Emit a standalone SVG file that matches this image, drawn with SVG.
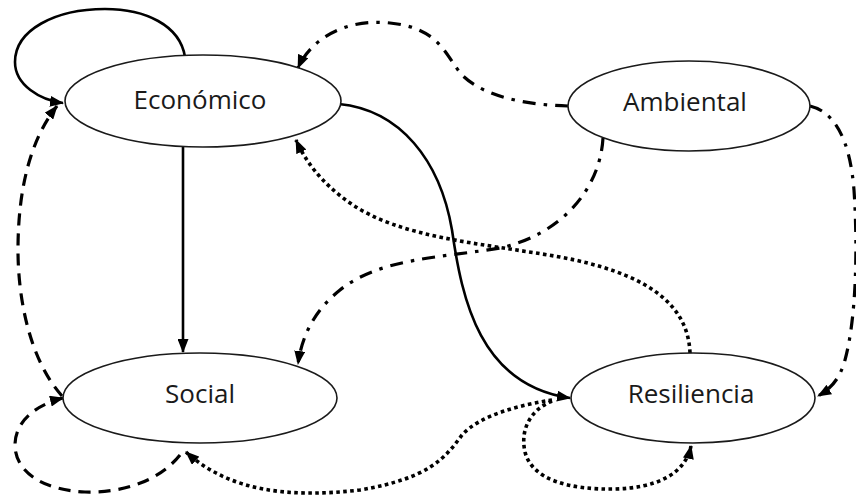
<svg xmlns="http://www.w3.org/2000/svg" width="856" height="497" viewBox="0 0 856 497">
  <style>
    .node { fill: #ffffff; stroke: #1a1a1a; stroke-width: 1.6; }
    .label { font-family: "Open Sans", "Liberation Sans", sans-serif; font-size: 26px; fill: #1a1a1a; text-anchor: middle; }
    .edge { fill: none; stroke: #000000; }
    .solid { stroke-width: 2.6; }
    .dashed { stroke-width: 3.2; stroke-dasharray: 12 8; }
    .dashdot { stroke-width: 3.2; stroke-dasharray: 13 8 3.5 8; }
    .dotted { stroke-width: 3.6; stroke-dasharray: 3.6 3.4; }
  </style>
  <defs>
    <marker id="arrow" markerUnits="userSpaceOnUse" markerWidth="14" markerHeight="11" refX="13" refY="5.5" orient="auto">
      <path d="M0,0 L14,5.5 L0,11 z" fill="#000000" stroke="none"/>
    </marker>
  </defs>

  <rect width="856" height="497" fill="#ffffff"/>

  <!-- connectors -->
  <g id="connectors">
    <!-- Económico self loop -->
    <path class="edge solid" d="M185,57 C180,25 145,9 105,9 C55,9 15,30 15,62 C15,85 40,100 63,103" marker-end="url(#arrow)"/>
    <!-- Económico to Social -->
    <path class="edge solid" d="M183,147 L183,352" marker-end="url(#arrow)"/>
    <!-- Económico to Resiliencia -->
    <path class="edge solid" d="M339,104 C400,110 440,160 452,230 C462,300 480,385 570,398" marker-end="url(#arrow)"/>
    <!-- Social to Económico (dashed, left side) -->
    <path class="edge dashed" d="M62,396 C30,360 18,300 18,250 C18,190 30,140 57,106" marker-end="url(#arrow)"/>
    <!-- Social self loop -->
    <path class="edge dashed" d="M180,455 C160,480 125,493 85,492 C40,490 15,470 15,445 C15,422 35,405 63,398" marker-end="url(#arrow)"/>
    <!-- Ambiental to Económico -->
    <path class="edge dashdot" d="M568,106 C530,105 485,98 462,75 C445,55 440,28 390,23 C345,18 310,40 298,68" marker-end="url(#arrow)"/>
    <!-- Ambiental to Social -->
    <path class="edge dashdot" d="M603,138 C600,190 560,235 500,248 C440,258 380,258 340,290 C315,310 302,335 298,364" marker-end="url(#arrow)"/>
    <!-- Ambiental to Resiliencia -->
    <path class="edge dashdot" d="M810,106 C835,112 850,140 854,190 C858,250 856,320 845,360 C840,378 832,388 818,396" marker-end="url(#arrow)"/>
    <!-- Resiliencia to Económico -->
    <path class="edge dotted" d="M690,353 C688,300 640,272 560,257 C480,243 400,238 350,203 C320,182 305,160 296,140" marker-end="url(#arrow)"/>
    <!-- Resiliencia to Social -->
    <path class="edge dotted" d="M552,400 C520,405 480,415 462,435 C445,458 430,478 360,490 C290,498 230,492 186,452" marker-end="url(#arrow)"/>
    <!-- Resiliencia self loop -->
    <path class="edge dotted" d="M552,401 C530,410 520,430 525,452 C532,480 570,490 615,489 C655,488 685,475 691,446" marker-end="url(#arrow)"/>
  </g>

  <g id="economico">
    <ellipse class="node" cx="203" cy="101" rx="138" ry="46"/>
    <text class="label" x="200" y="109">Económico</text>
  </g>
  <g id="ambiental">
    <ellipse class="node" cx="689" cy="106" rx="121" ry="45"/>
    <text class="label" x="685" y="111">Ambiental</text>
  </g>
  <g id="social">
    <ellipse class="node" cx="200" cy="398" rx="137" ry="45"/>
    <text class="label" x="200" y="403">Social</text>
  </g>
  <g id="resiliencia">
    <ellipse class="node" cx="693" cy="398" rx="122" ry="45"/>
    <text class="label" x="691" y="403">Resiliencia</text>
  </g>
</svg>
